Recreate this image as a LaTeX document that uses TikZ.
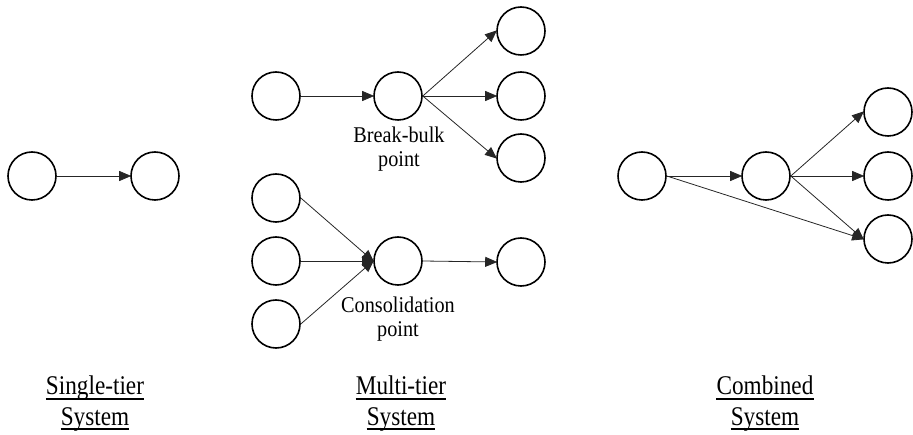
\documentclass[tikz,border=0pt]{standalone}
\usepackage{fontspec}
\setmainfont{Liberation Serif}
\newfontfamily\condA[FakeStretch=0.9]{Liberation Serif}
\newfontfamily\condB[FakeStretch=0.86]{Liberation Serif}
\usetikzlibrary{arrows.meta}
\begin{document}
\begin{tikzpicture}[x=1pt,y=-1pt,
  hub/.style={circle,draw=black,line width=1.6pt,minimum size=48pt,inner sep=0pt},
  flow/.style={draw=black!85,line width=0.8pt,-{Triangle[length=12pt,width=10pt]},shorten >=-1pt},
  lbl/.style={anchor=base,inner sep=0pt,font=\condA\fontsize{22.5}{25}\selectfont},
  ttl/.style={anchor=base,inner sep=0pt,font=\condB\fontsize{27}{30}\selectfont},
  ul/.style={draw=black,line width=1.1pt}]
\useasboundingbox (0,0) rectangle (913,435);
% Single-tier
\node[hub] (s1) at (32,176) {};
\node[hub] (s2) at (155,176) {};
\draw[flow] (s1.east) -- (s2.west);
% Multi-tier top
\node[hub] (m1) at (276,96) {};
\node[hub] (m2) at (398,96) {};
\node[hub] (m3) at (521,31) {};
\node[hub] (m4) at (521,96) {};
\node[hub] (m5) at (521,158) {};
\draw[flow] (m1.east) -- (m2.west);
\draw[flow] (m2.east) -- (m3.west);
\draw[flow] (m2.east) -- (m4.west);
\draw[flow] (m2.east) -- (m5.west);
\node[lbl] (bb1) at (399,143) {Break-bulk};
\node[lbl] (bb2) at (399,167) {point};
% Multi-tier bottom
\node[hub] (c1) at (276,198) {};
\node[hub] (c2) at (276,261) {};
\node[hub] (c3) at (276,324) {};
\node[hub] (c4) at (398,261) {};
\node[hub] (c5) at (521,262) {};
\draw[flow] (c1.east) -- (c4.west);
\draw[flow] (c2.east) -- (c4.west);
\draw[flow] (c3.east) -- (c4.west);
\draw[flow] (c4.east) -- (c5.west);
\node[lbl] (cp1) at (398,313) {Consolidation};
\node[lbl] (cp2) at (398,337) {point};
% Combined
\node[hub] (k1) at (642,176) {};
\node[hub] (k2) at (766,176) {};
\node[hub] (k3) at (888,112) {};
\node[hub] (k4) at (888,176) {};
\node[hub] (k5) at (888,239) {};
\draw[flow] (k1.east) -- (k2.west);
\draw[flow] (k2.east) -- (k3.west);
\draw[flow] (k2.east) -- (k4.west);
\draw[flow] (k2.east) -- (k5.west);
\draw[flow] (k1.east) -- (k5.west);
% Titles
\node[ttl] (t1a) at (95,395) {Single-tier};
\node[ttl] (t1b) at (95,425) {System};
\node[ttl] (t2a) at (401,395) {Multi-tier};
\node[ttl] (t2b) at (401,425) {System};
\node[ttl] (t3a) at (765,395) {Combined};
\node[ttl] (t3b) at (765,425) {System};
\foreach \t in {t1a,t1b,t2a,t2b,t3a,t3b}
  \draw[ul] ([yshift=-4pt]\t.base west) -- ([yshift=-4pt]\t.base east);
\end{tikzpicture}
\end{document}
